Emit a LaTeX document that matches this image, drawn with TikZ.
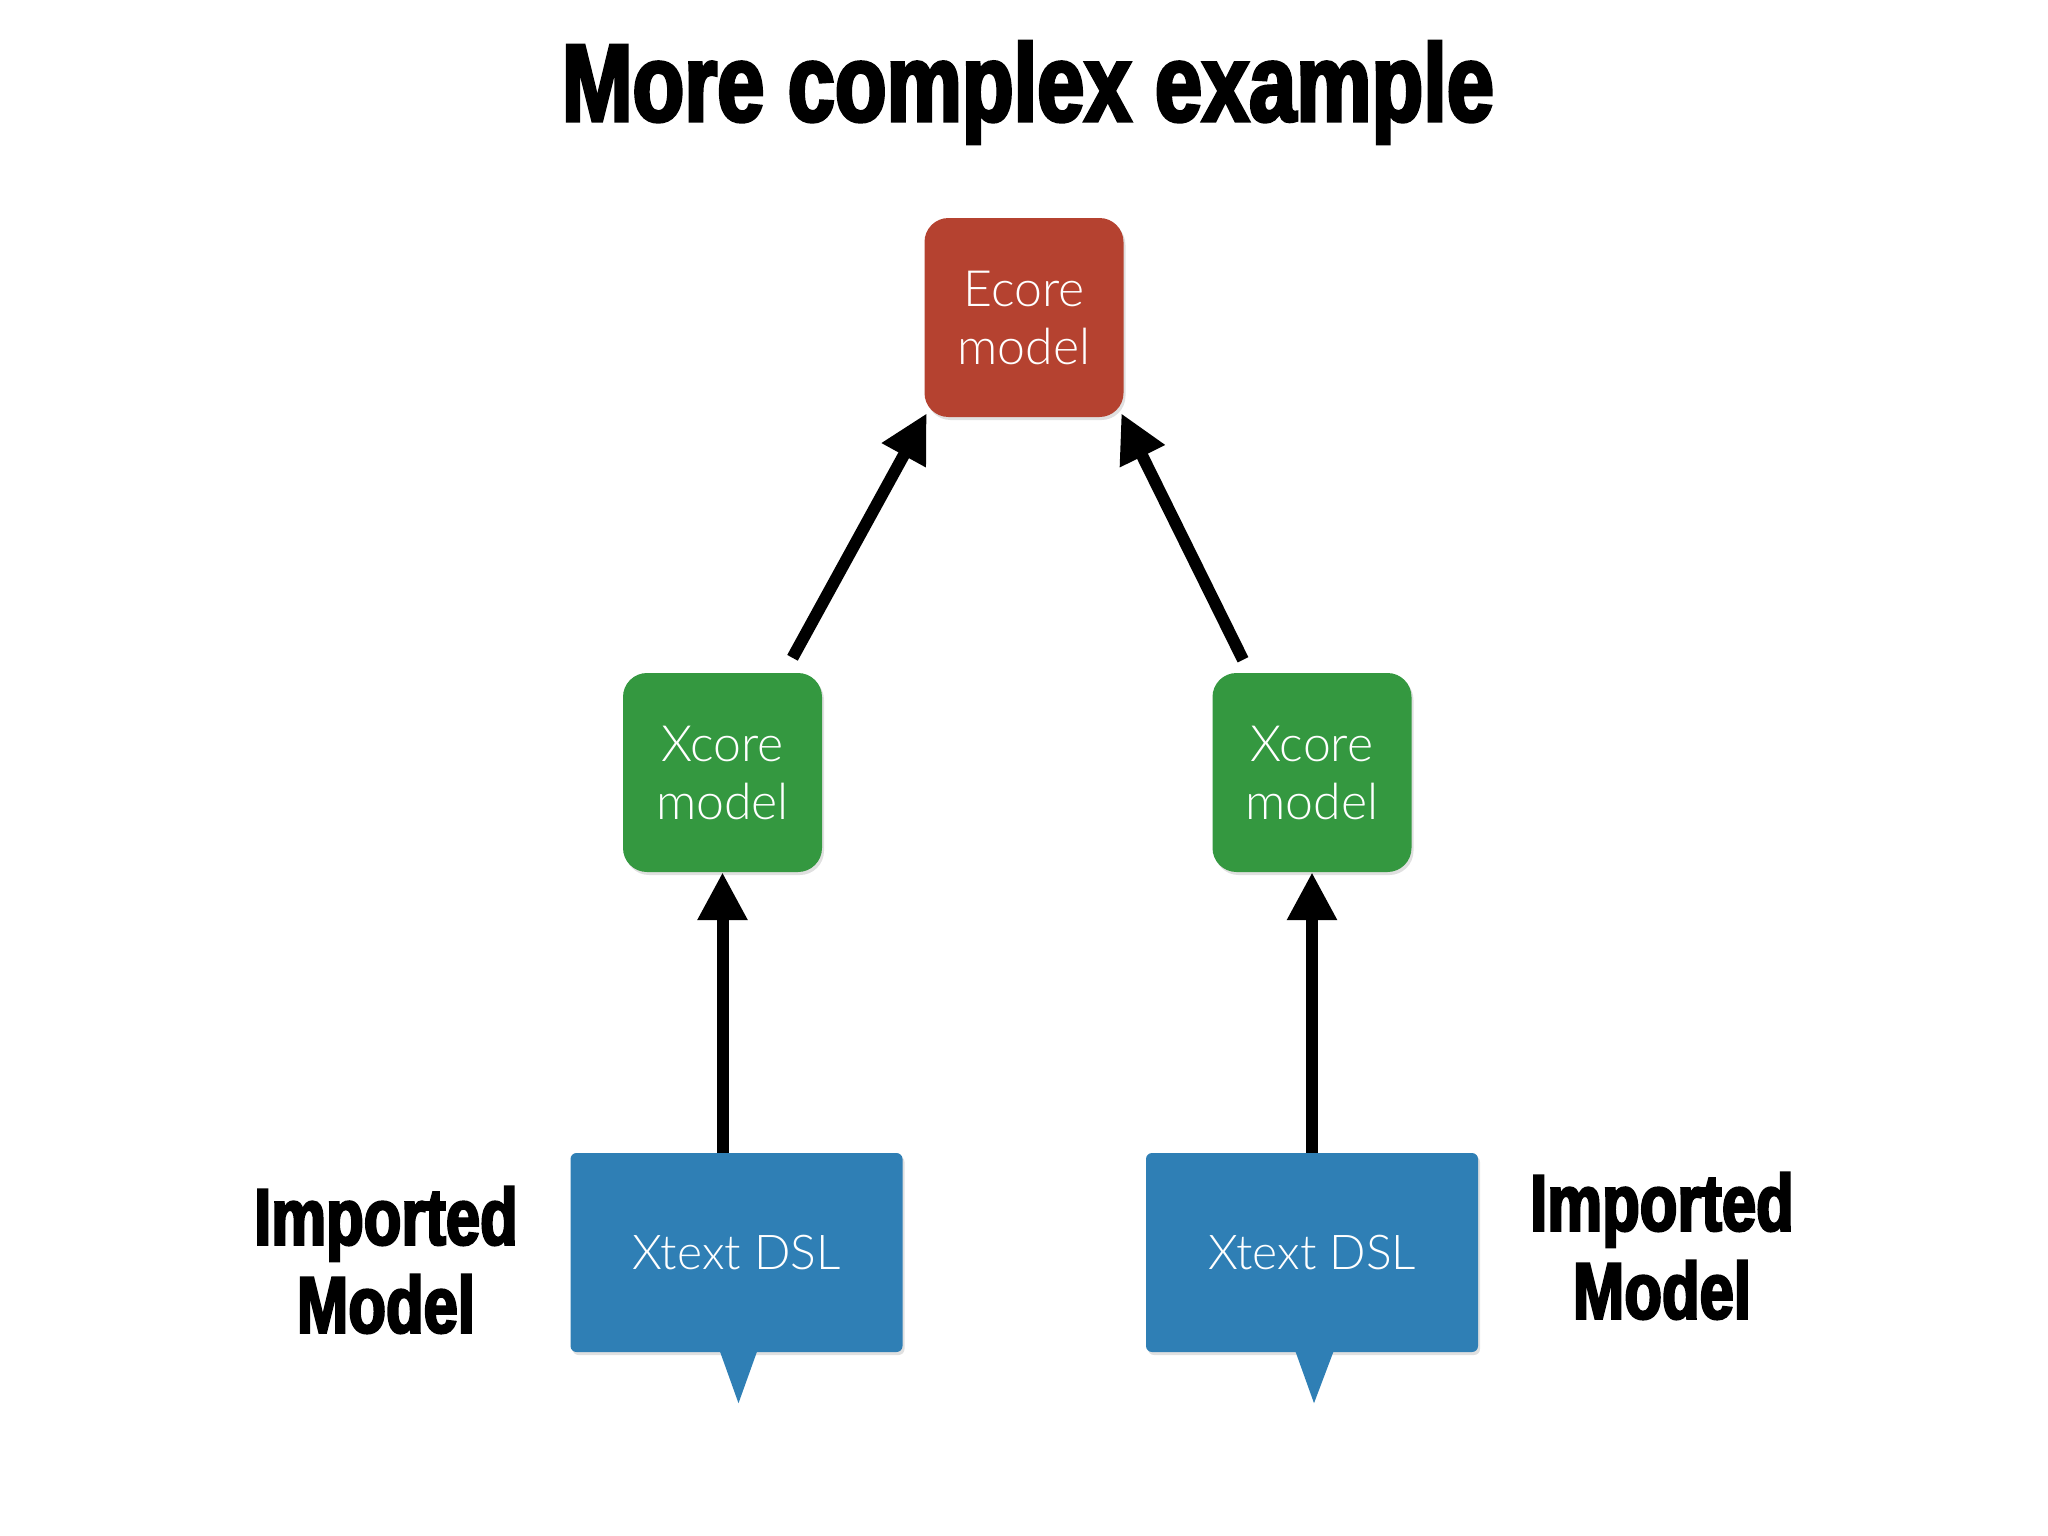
\documentclass[tikz,border=0pt]{standalone}
\usepackage{fontspec}
\usetikzlibrary{arrows.meta,shadows,calc}
\newfontfamily\impactfont{Liberation Sans Bold}[FakeStretch=0.77,FakeBold=3]
\newfontfamily\lightfont{Lato Light}
\definecolor{ecorered}{RGB}{181,66,48}
\definecolor{xcoregreen}{RGB}{52,152,64}
\definecolor{xtextblue}{RGB}{47,127,181}
\begin{document}
\begin{tikzpicture}[x=1pt,y=-1pt,
  shadowed/.style={drop shadow={shadow xshift=2pt,shadow yshift=-3pt,opacity=0.12,fill=black}},
  box/.style={shadowed, rounded corners=24pt, minimum width=199pt, minimum height=199pt,
    inner sep=0pt, text=white, align=center, font=\lightfont\fontsize{50}{58}\selectfont},
  dsl/.style={shadowed, fill=xtextblue, rounded corners=6pt, minimum width=332pt, minimum height=199pt,
    inner sep=0pt, text=white, font=\lightfont\fontsize{48}{58}\selectfont},
  heading/.style={inner sep=0pt, font=\impactfont\fontsize{110}{120}\selectfont},
  sidelabel/.style={inner sep=0pt, align=center, font=\impactfont\fontsize{80}{88}\selectfont},
  arr/.style={line width=12pt, -{Triangle[length=48pt,width=47pt]}}
]
\fill[white] (0,0) rectangle (2048,1536);
\path[use as bounding box] (0,0) rectangle (2048,1536);

\node[heading, anchor=base] (title) at (1028,121) {More complex example};

\node[box, fill=ecorered] (ecore) at (1024,317.5) {Ecore\\model};
\node[box, fill=xcoregreen] (xl) at (722.5,772.5) {Xcore\\model};
\node[box, fill=xcoregreen] (xr) at (1312,772.5) {Xcore\\model};

\node[dsl] (dl) at (736.5,1252.5) {Xtext DSL};
\node[dsl] (dr) at (1312,1252.5) {Xtext DSL};
\fill[xtextblue] ($(dl.south)+(-17,-2)$) -- ($(dl.south)+(2,51)$) -- ($(dl.south)+(21,-2)$) -- cycle;
\fill[xtextblue] ($(dr.south)+(-17,-2)$) -- ($(dr.south)+(2,51)$) -- ($(dr.south)+(22,-2)$) -- cycle;

\node[sidelabel] (il) at (386,1260) {Imported\\Model};
\node[sidelabel] (ir) at (1662,1246) {Imported\\Model};

\coordinate (lt) at ($(xl.north)+(70,-15)$);
\coordinate (lh) at ($(ecore.south west)+(2.5,-4)$);
\coordinate (rt) at ($(xr.north)+(-69,-13)$);
\coordinate (rh) at ($(ecore.south east)+(-2.5,-4)$);

\draw[arr] (lt) -- (lh);
\draw[arr] (rt) -- (rh);
\draw[arr] (dl.north -| xl.south) -- (xl.south);
\draw[arr] (dr.north -| xr.south) -- (xr.south);
\end{tikzpicture}
\end{document}
